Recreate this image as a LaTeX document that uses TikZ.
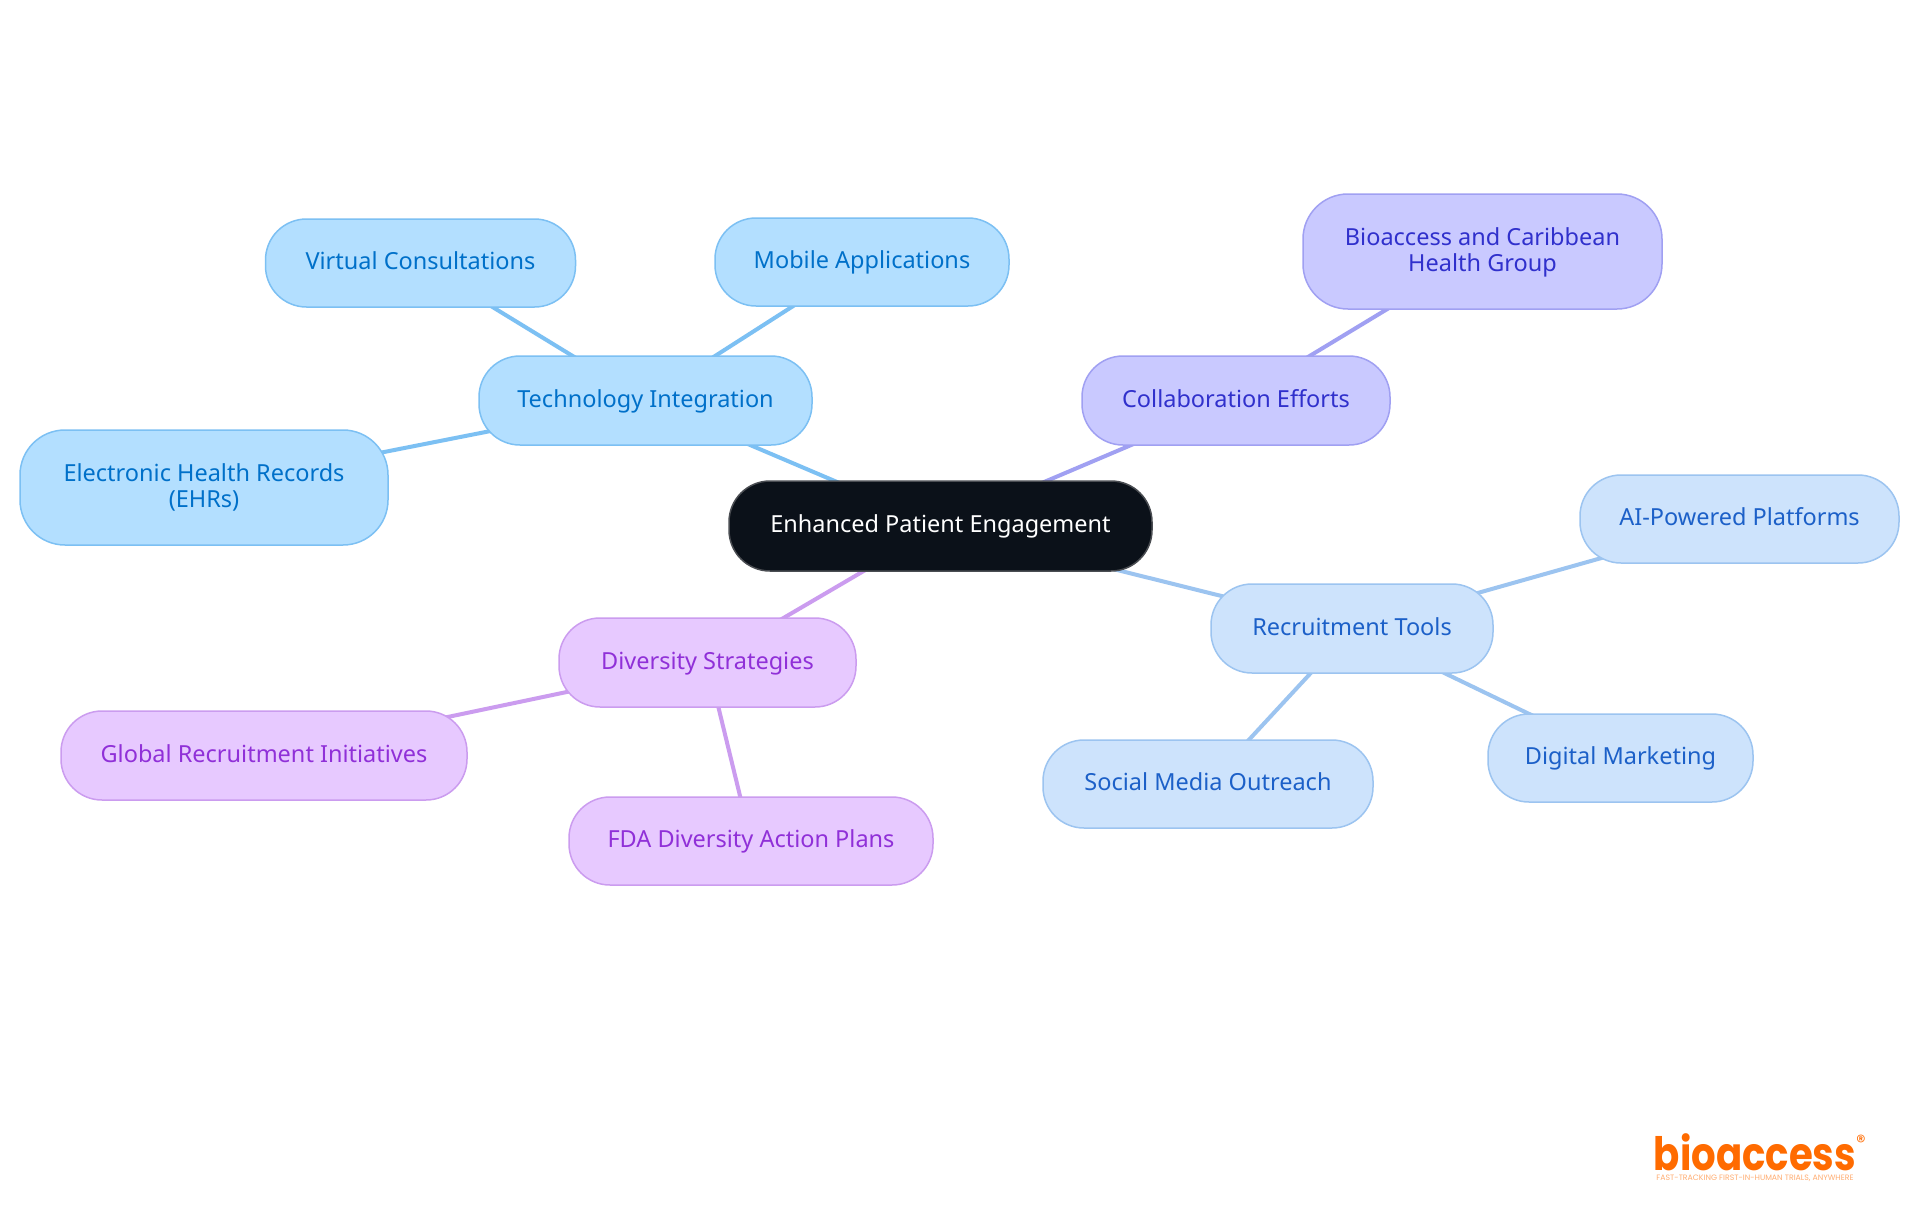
\documentclass[tikz,border=0pt]{standalone}
\usepackage{fontspec}
\setmainfont{Noto Sans}
\newfontfamily\logofont{Poppins}
\usetikzlibrary{backgrounds}
\definecolor{techfill}{HTML}{B3DFFF}\definecolor{techline}{HTML}{7CC0F3}\definecolor{techtext}{HTML}{0070C9}
\definecolor{colfill}{HTML}{C9C9FF}\definecolor{colline}{HTML}{A0A0F2}\definecolor{coltext}{HTML}{3030CC}
\definecolor{recfill}{HTML}{CDE3FC}\definecolor{recline}{HTML}{9CC4F0}\definecolor{rectext}{HTML}{1C60C8}
\definecolor{divfill}{HTML}{E7C9FF}\definecolor{divline}{HTML}{CB9CEF}\definecolor{divtext}{HTML}{9030D8}
\definecolor{rootfill}{HTML}{0B1119}\definecolor{rootline}{HTML}{4A4D52}\definecolor{logoorange}{HTML}{FF6B00}
\tikzset{
 pill/.style={rectangle,rounded corners=41pt,line width=1.5pt,inner sep=0pt,align=center,
   text height=18.4pt,text depth=5pt,font=\fontsize{23.5}{26}\selectfont},
 tall/.style={rounded corners=45pt,text height=44.4pt},
 box/.style n args={2}{minimum width=#1,minimum height=#2},
 rootnode/.style={pill,fill=rootfill,draw=rootline,text=white},
 technode/.style={pill,fill=techfill,draw=techline,text=techtext},
 colnode/.style={pill,fill=colfill,draw=colline,text=coltext},
 recnode/.style={pill,fill=recfill,draw=recline,text=rectext},
 divnode/.style={pill,fill=divfill,draw=divline,text=divtext},
 edge/.style={line width=4pt}
}
\begin{document}
\begin{tikzpicture}[x=1pt,y=-1pt]
\path[use as bounding box] (0,0) rectangle (1920,1215);
\node[rootnode,box={423pt}{90pt}] (root) at (940.5,526) {Enhanced Patient Engagement};
\node[technode,box={333pt}{89pt}] (tech) at (645.5,400.5) {Technology Integration};
\node[technode,box={310pt}{88pt}] (virt) at (420.5,263) {Virtual Consultations};
\node[technode,box={294pt}{88pt}] (mob) at (862,262) {Mobile Applications};
\node[technode,tall,box={368pt}{115pt}] (ehr) at (204,487.5) {Electronic Health Records\\(EHRs)};
\node[colnode,box={308pt}{89pt}] (coll) at (1236,400.5) {Collaboration Efforts};
\node[colnode,tall,box={359pt}{115pt}] (bio) at (1482.5,251.5) {Bioaccess and Caribbean\\Health Group};
\node[recnode,box={282pt}{89pt}] (rec) at (1352,628.5) {Recruitment Tools};
\node[recnode,box={319pt}{88pt}] (ai) at (1739.5,519) {AI-Powered Platforms};
\node[recnode,box={265pt}{88pt}] (dig) at (1620.5,758) {Digital Marketing};
\node[recnode,box={330pt}{88pt}] (soc) at (1208,784) {Social Media Outreach};
\node[divnode,box={297pt}{89pt}] (div) at (707.5,662.5) {Diversity Strategies};
\node[divnode,box={406pt}{89pt}] (glob) at (264,755.5) {Global Recruitment Initiatives};
\node[divnode,box={364pt}{88pt}] (fda) at (751,841) {FDA Diversity Action Plans};
\begin{scope}[on background layer]
\fill[white] (0,0) rectangle (1920,1215);
\draw[edge,techline] (root.center)--(tech.center) (tech.center)--(virt.center) (tech.center)--(mob.center) (tech.center)--(ehr.center);
\draw[edge,colline] (root.center)--(coll.center) (coll.center)--(bio.center);
\draw[edge,recline] (root.center)--(rec.center) (rec.center)--(ai.center) (rec.center)--(dig.center) (rec.center)--(soc.center);
\draw[edge,divline] (root.center)--(div.center) (div.center)--(glob.center) (div.center)--(fda.center);
\end{scope}
\node[inner sep=0pt,anchor=base,xscale=.84,text depth=0pt,text=logoorange,font=\logofont\bfseries\fontsize{46}{46}\selectfont] (logo) at (1755,1170) {bioaccess};
\node[inner sep=0pt,text=logoorange,font=\logofont\fontsize{19}{19}\selectfont] (reg) at (1861,1142) {®};
\node[inner sep=0pt,text=logoorange!55,font=\logofont\fontsize{7.8}{8}\selectfont] (tag) at (1755,1178) {FAST-TRACKING FIRST-IN-HUMAN TRIALS, ANYWHERE};
\end{tikzpicture}
\end{document}
